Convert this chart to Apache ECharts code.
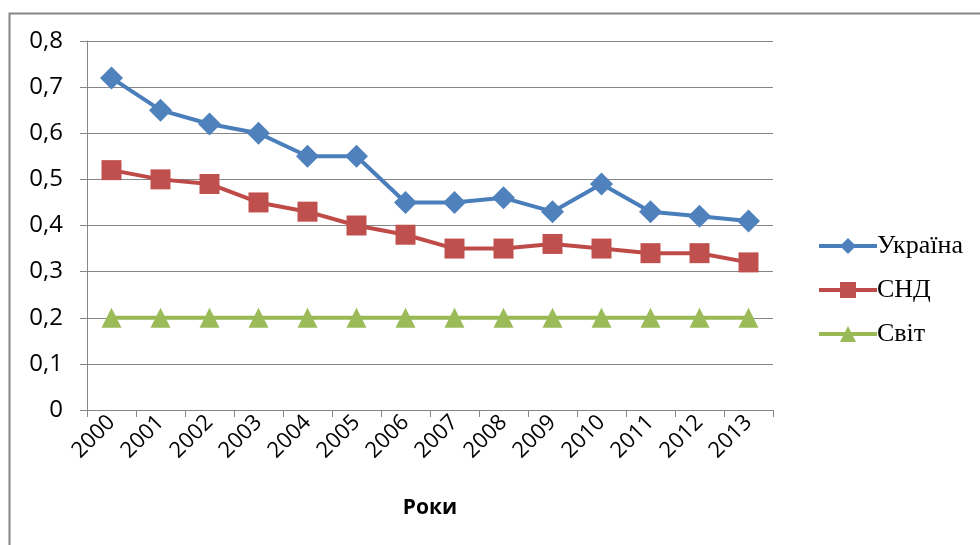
<!DOCTYPE html>
<html><head><meta charset="utf-8">
<script src="https://cdn.jsdelivr.net/npm/echarts@6/dist/echarts.min.js"></script>
<style>html,body{margin:0;padding:0;background:#fff}#c{width:980px;height:545px}</style>
</head><body><div id="c"></div>
<script>
const years = ['2000','2001','2002','2003','2004','2005','2006','2007','2008','2009','2010','2011','2012','2013'];
const ukraine = [0.72,0.65,0.62,0.60,0.55,0.55,0.45,0.45,0.46,0.43,0.49,0.43,0.42,0.41];
const cis = [0.52,0.50,0.49,0.45,0.43,0.40,0.38,0.35,0.35,0.36,0.35,0.34,0.34,0.32];
const world = [0.2,0.2,0.2,0.2,0.2,0.2,0.2,0.2,0.2,0.2,0.2,0.2,0.2,0.2];
const yTicks = ['0','0,1','0,2','0,3','0,4','0,5','0,6','0,7','0,8'];

const chart = echarts.init(document.getElementById('c'), null, {renderer:'canvas'});
const ff = '"Open Sans", "Liberation Sans", sans-serif';
const serif = 'Times New Roman';
chart.setOption({
  animation:false,
  graphic:[{type:'rect', shape:{x:9.5,y:13.5,width:1000,height:560}, style:{fill:'none', stroke:'#868686', lineWidth:2}, silent:true}],
  grid:{left:87, right:207, top:41, bottom:135, containLabel:false},
  legend:{
    orient:'vertical', left:812, top:227, itemGap:16, itemWidth:58, itemHeight:20,
    lineStyle:{width:4},
    textStyle:{fontFamily:serif, fontSize:26, lineHeight:28, color:'#000', padding:[0,0,0,-5]},
    data:['Україна','СНД','Світ']
  },
  xAxis:{
    type:'category', data:years, boundaryGap:true,
    name:'Роки', nameLocation:'middle', nameGap:88,
    nameTextStyle:{fontFamily:ff, color:'#000', fontSize:21, fontWeight:'bold'},
    axisLine:{lineStyle:{color:'#868686', width:1}},
    axisTick:{show:true, alignWithLabel:false, length:7, lineStyle:{color:'#868686'}},
    axisLabel:{fontFamily:ff, color:'#000', fontSize:22, rotate:45, margin:9, interval:0}
  },
  yAxis:{
    type:'value', min:0, max:0.8, interval:0.1,
    axisLine:{show:true, lineStyle:{color:'#868686'}},
    axisTick:{show:true, length:7, lineStyle:{color:'#868686'}},
    splitLine:{lineStyle:{color:'#868686', width:1}},
    axisLabel:{fontFamily:ff, color:'#000', fontSize:24, margin:24, formatter:(v)=>yTicks[Math.round(v*10)]}
  },
  series:[
    {name:'Україна', type:'line', data:ukraine, symbol:'diamond', symbolSize:23,
      lineStyle:{color:'#4A7EBB', width:4}, itemStyle:{color:'#4F81BD'}},
    {name:'СНД', type:'line', data:cis, symbol:'rect', symbolSize:20,
      lineStyle:{color:'#BE4B48', width:4}, itemStyle:{color:'#C0504D'}},
    {name:'Світ', type:'line', data:world, symbol:'triangle', symbolSize:20,
      lineStyle:{color:'#98B954', width:4}, itemStyle:{color:'#9BBB59'}}
  ]
});
</script></body></html>
